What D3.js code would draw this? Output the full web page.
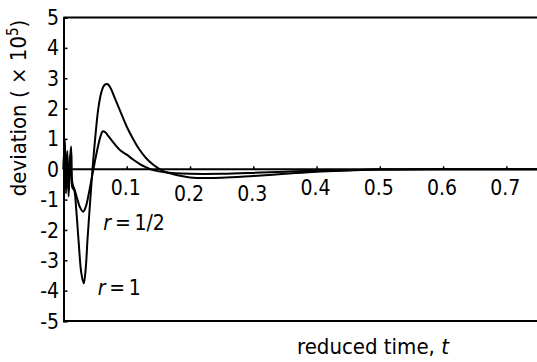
<!DOCTYPE html>
<html>
<head>
<meta charset="utf-8">
<script src="https://cdn.jsdelivr.net/npm/d3@7"></script>
<style>
html,body{margin:0;padding:0;background:#fff;}
svg{display:block;}
text{font-family:"DejaVu Sans Condensed","DejaVu Sans",sans-serif;fill:#000;}
</style>
</head>
<body>
<svg id="chart" width="537" height="362"></svg>
<script>
// ---- data ----
const xTicks = [0.1, 0.2, 0.3, 0.4, 0.5, 0.6, 0.7];
const xTickLabels = ["0.1", "0.2", "0.3", "0.4", "0.5", "0.6", "0.7"];
const yTicks = [5, 4, 3, 2, 1, 0, -1, -2, -3, -4, -5];
const yTickLabels = ["5", "4", "3", "2", "1", "0", "-1", "-2", "-3", "-4", "-5"];

// r = 1
const tR1 = [0, 0.002, 0.004, 0.006, 0.008, 0.010, 0.012, 0.014, 0.017, 0.020, 0.024, 0.028, 0.032, 0.035, 0.038, 0.042, 0.046, 0.050, 0.055, 0.060, 0.065, 0.070, 0.075, 0.080, 0.090, 0.100, 0.110, 0.120, 0.130, 0.140, 0.150, 0.160, 0.180, 0.200, 0.250, 0.300, 0.350, 0.400, 0.450, 0.500, 0.600, 0.750];
const vR1 = [0, 1.0, -0.8, 0.6, -0.9, 0.2, 0.75, -0.6, -0.7, -1.3, -2.4, -3.4, -3.76, -3.3, -2.3, -1.1, 0.05, 1.0, 2.0, 2.55, 2.78, 2.8, 2.65, 2.4, 1.9, 1.4, 1.0, 0.65, 0.38, 0.18, 0.03, -0.08, -0.2, -0.27, -0.28, -0.22, -0.15, -0.08, -0.04, -0.01, 0, 0];

// r = 1/2
const tR2 = [0, 0.002, 0.004, 0.006, 0.008, 0.010, 0.012, 0.014, 0.018, 0.022, 0.026, 0.031, 0.035, 0.040, 0.045, 0.050, 0.055, 0.058, 0.062, 0.066, 0.070, 0.080, 0.090, 0.100, 0.110, 0.120, 0.130, 0.140, 0.160, 0.200, 0.250, 0.300, 0.350, 0.400, 0.500, 0.600, 0.750];
const vR2 = [0, 0.9, -0.6, 0.5, -0.7, 0.1, 0.6, -0.45, -0.7, -1.0, -1.25, -1.4, -1.25, -0.8, -0.25, 0.3, 0.8, 1.05, 1.25, 1.22, 1.12, 0.85, 0.62, 0.48, 0.32, 0.18, 0.07, -0.02, -0.1, -0.15, -0.15, -0.12, -0.08, -0.05, -0.01, 0, 0];

const seriesLabels = [{name: "r = 1/2", t: 0.063, v: -2.0}, {name: "r = 1", t: 0.054, v: -4.15}];

// ---- chart ----
const svg = d3.select("#chart");
const x = d3.scaleLinear().domain([0, 0.75]).range([63.5, 538]);
const y = d3.scaleLinear().domain([-5, 5]).range([321, 17.5]);

// frame lines
const g = svg.append("g");
g.append("line").attr("x1", x(0)).attr("x2", 537).attr("y1", y(5)).attr("y2", y(5)).attr("stroke", "#000").attr("stroke-width", 2);
g.append("line").attr("x1", x(0)).attr("x2", 537).attr("y1", y(-5)).attr("y2", y(-5)).attr("stroke", "#000").attr("stroke-width", 2);

// y axis
const yAxis = d3.axisRight(y).tickValues(yTicks).tickSize(4).tickFormat("");
const ya = svg.append("g").attr("transform", `translate(${x(0)},0)`).call(yAxis);
ya.select(".domain").attr("stroke-width", 2);
ya.selectAll(".tick line").attr("stroke-width", 1.5);
svg.append("g").selectAll("text").data(yTicks).join("text")
  .attr("x", 59).attr("y", d => y(d)).attr("dy", "0.36em")
  .attr("text-anchor", "end").attr("font-size", 21)
  .text((d, i) => yTickLabels[i]);

// zero line with x ticks
const xAxis = d3.axisTop(x).tickValues(xTicks).tickSize(3).tickFormat("");
const xa = svg.append("g").attr("transform", `translate(0,${y(0)})`).call(xAxis);
xa.select(".domain").attr("stroke-width", 2).attr("d", `M${x(0)},0H537`);
xa.selectAll(".tick line").attr("stroke-width", 1.5);
const xLabelDrop = [26, 32, 32, 26, 26, 26, 26];
svg.append("g").selectAll("text").data(xTicks).join("text")
  .attr("x", d => x(d) - 1).attr("y", (d, i) => y(0) + xLabelDrop[i])
  .attr("text-anchor", "middle").attr("font-size", 21)
  .text((d, i) => xTickLabels[i]);

// curves
const line = d3.line().x(d => x(d[0])).y(d => y(d[1])).curve(d3.curveCatmullRom.alpha(0.5));
svg.append("path").datum(tR1.map((t, i) => [t, vR1[i]]))
  .attr("d", line).attr("fill", "none").attr("stroke", "#000").attr("stroke-width", 2);
svg.append("path").datum(tR2.map((t, i) => [t, vR2[i]]))
  .attr("d", line).attr("fill", "none").attr("stroke", "#000").attr("stroke-width", 2);

// series labels
seriesLabels.forEach(s => {
  const tx = svg.append("text").attr("x", x(s.t)).attr("y", y(s.v)).attr("font-size", 21);
  tx.append("tspan").attr("font-style", "italic").text("r");
  tx.append("tspan").text(s.name.slice(1).replace(/ /g, "\u2009"));
});

// axis titles
const yl = svg.append("text").attr("transform", "translate(26,108) rotate(-90)")
  .attr("text-anchor", "middle").attr("font-size", 22);
yl.append("tspan").text("deviation ( × 10");
yl.append("tspan").attr("dy", -8).attr("font-size", 15).text("5");
yl.append("tspan").attr("dy", 8).text(")");

const xl = svg.append("text").attr("x", 297).attr("y", 354).attr("font-size", 22);
xl.append("tspan").text("reduced time, ");
xl.append("tspan").attr("font-style", "italic").text("t");
</script>
</body>
</html>
